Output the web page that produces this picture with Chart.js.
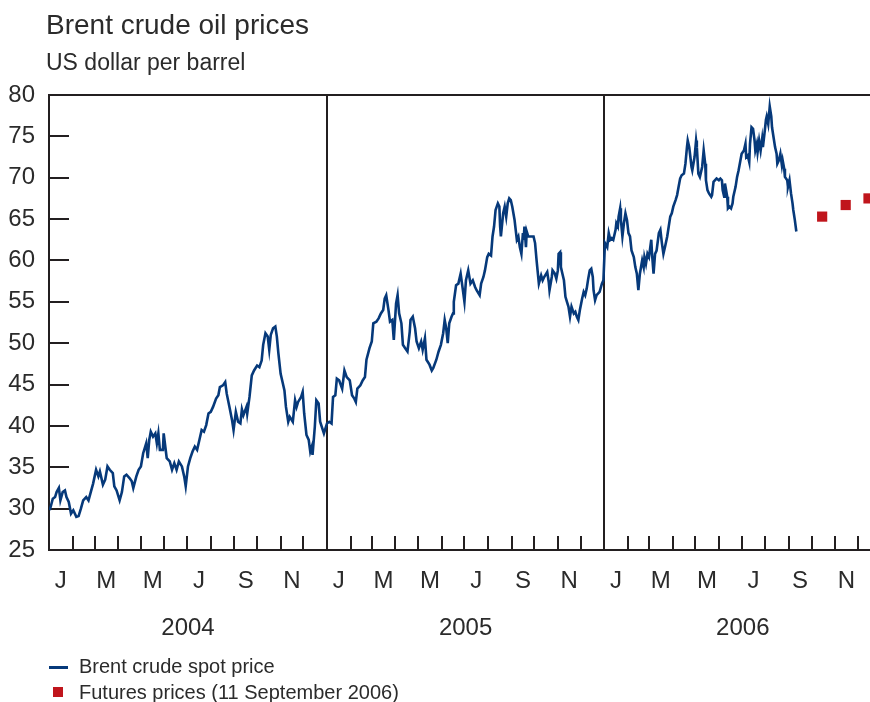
<!DOCTYPE html>
<html>
<head>
<meta charset="utf-8">
<title>Brent crude oil prices</title>
<script src="https://cdn.jsdelivr.net/npm/chart.js@4.4.1/dist/chart.umd.min.js"></script>
<style>
  body { margin: 0; background: #fff; }
  #wrap { position: relative; width: 870px; height: 702px; overflow: hidden;
          font-family: "Liberation Sans", Arial, sans-serif; color: #2b2b2b; }
  #chart { position: absolute; left: 0; top: 0; }
  .txt { position: absolute; white-space: nowrap; }
  #title { left: 46px; top: 11px; font-size: 28px; line-height: 28px; }
  #unit { left: 46px; top: 51px; font-size: 23px; line-height: 23px; }
  .leg { left: 79px; font-size: 20px; line-height: 20px; }
  .swatch { position: absolute; }
</style>
</head>
<body>
<div id="wrap">
  <canvas id="chart" width="870" height="702"></canvas>
  <div class="txt" id="title">Brent crude oil prices</div>
  <div class="txt" id="unit">US dollar per barrel</div>
  <div class="swatch" style="left:49px; top:666px; width:19px; height:3px; background:#06397a;"></div>
  <div class="txt leg" style="top:656px;">Brent crude spot price</div>
  <div class="swatch" style="left:53px; top:687px; width:10px; height:10px; background:#c0151c;"></div>
  <div class="txt leg" style="top:682px;">Futures prices (11 September 2006)</div>
</div>
<script>
// x values are days counted from 1 January 2004
const spotDays = [
  1, 5, 8, 10, 13, 15, 18, 21, 23, 26, 29, 32, 36, 39, 42, 45, 49, 52, 55, 58,
  62, 65, 67, 71, 74, 77, 80, 84, 86, 89, 93, 96, 99, 102, 106, 109, 111, 115, 118, 121,
  124, 128, 130, 132, 134, 137, 140, 142, 144, 146, 150, 151, 155, 159, 162, 165, 168, 171, 175, 178,
  180, 183, 186, 189, 192, 195, 198, 201, 204, 207, 210, 213, 216, 220, 223, 225, 229, 232, 234, 238,
  241, 243, 246, 249, 252, 254, 256, 260, 261, 264, 267, 270, 274, 277, 280, 282, 285, 288, 290, 292,
  295, 298, 300, 302, 305, 308, 310, 312, 315, 317, 321, 324, 326, 328, 332, 334, 336, 339, 342, 344,
  346, 347, 350, 352, 355, 357, 362,
  366, 369, 372, 374, 377, 379, 382, 386, 389, 392, 396, 399, 402, 404, 406, 410, 413, 416, 418, 422,
  425, 427, 431, 434, 437, 440, 442, 444, 447, 449, 452, 454, 457, 459, 461, 464, 466, 469, 472, 475,
  476, 479, 482, 484, 487, 490, 492, 495, 497, 501, 504, 506, 510, 513, 516, 519, 521, 523, 525, 527,
  530, 532, 533, 536, 539, 542, 545, 547, 549, 552, 555, 558, 561, 563, 567, 569, 572, 574, 577, 579,
  582, 584, 586, 588, 591, 593, 594, 595, 598, 600, 602, 604, 606, 608, 610, 613, 614, 616, 618, 620,
  622, 624, 625, 626, 628, 629, 631, 634, 636, 638, 640, 642, 645, 648, 650, 652, 656, 658, 659, 662,
  663, 666, 668, 670, 671, 673, 674, 676, 678, 680, 682, 684, 686, 688, 691, 693, 695, 697, 699, 702,
  704, 706, 708, 710, 712, 714, 716, 717, 719, 721, 725, 728, 730,
  732, 735, 737, 739, 741, 743, 746, 747, 749, 750, 752, 753, 755, 757, 759, 761, 763, 765, 767, 770,
  772, 774, 776, 778, 781, 783, 784, 786, 788, 790, 793, 794, 796, 798, 800, 803, 805, 807, 809, 811,
  814, 816, 818, 820, 822, 825, 827, 829, 831, 833, 836, 838, 840, 841, 843, 844, 846, 847, 850, 852,
  853, 855, 857, 860, 862, 864, 865, 867, 869, 872, 873, 875, 877, 879, 882, 884, 886, 887, 889, 890,
  893, 894, 896, 898, 900, 901, 904, 906, 908, 910, 912, 915, 917, 918, 920, 922, 923, 925, 927, 929,
  930, 932, 933, 935, 937, 939, 940, 942, 944, 945, 947, 949, 951, 952, 954, 956, 958, 959, 961, 963,
  965, 966, 968, 969, 972, 973, 975, 977, 979, 980, 982, 984
];
const spotPrices = [
  29.8, 31.2, 31.4, 32.0, 32.5, 31.0, 32.0, 32.2, 31.4, 30.8, 29.4, 29.8, 29.0, 29.1, 30.0, 31.0, 31.4, 31.0, 32.0, 33.0,
  34.7, 33.9, 34.5, 32.9, 33.5, 35.1, 34.7, 34.3, 32.7, 32.2, 31.0, 32.0, 33.9, 34.1, 33.7, 33.3, 32.5, 33.9, 34.7, 35.1,
  36.7, 37.9, 36.1, 38.3, 39.3, 38.7, 39.1, 37.9, 39.1, 37.1, 37.1, 39.1, 36.1, 35.7, 34.7, 35.5, 34.7, 35.7, 35.1, 33.9,
  32.7, 35.1, 36.1, 36.9, 37.5, 37.1, 38.3, 39.5, 39.3, 40.1, 41.5, 41.7, 42.3, 43.3, 43.7, 44.7, 44.9, 45.3, 43.9, 42.1,
  40.7, 39.5, 41.7, 40.5, 40.3, 42.0, 41.3, 42.3, 41.5, 43.5, 46.1, 46.7, 47.3, 47.1, 47.9, 49.8, 51.2, 50.8, 49.2, 51.0,
  51.8, 52.0, 50.8, 48.8, 46.3, 45.1, 44.3, 42.3, 40.5, 41.1, 40.5, 43.1, 42.3, 42.9, 43.5, 44.1, 41.5, 38.9, 38.3, 36.9,
  37.5, 36.5, 39.9, 43.1, 42.7, 40.5, 39.1,
  40.3, 40.5, 40.3, 43.5, 43.7, 45.7, 45.5, 44.5, 46.7, 45.9, 45.5, 43.7, 43.3, 42.9, 44.5, 44.9, 45.5, 45.9, 48.0, 49.4,
  50.2, 52.4, 52.6, 53.0, 53.6, 54.0, 55.4, 55.8, 54.0, 52.6, 52.8, 50.4, 54.8, 55.8, 53.6, 52.4, 49.8, 49.4, 49.0, 51.4,
  52.8, 53.2, 51.8, 50.2, 49.4, 50.2, 49.2, 50.6, 48.0, 47.4, 46.7, 47.0, 48.0, 49.0, 49.8, 51.2, 52.8, 51.8, 50.0, 52.4,
  53.2, 53.6, 55.0, 57.0, 57.2, 58.4, 56.4, 55.0, 57.6, 58.8, 57.2, 57.6, 56.8, 56.4, 55.8, 57.2, 58.0, 58.8, 60.4, 60.8,
  60.6, 62.9, 64.1, 66.1, 66.9, 66.5, 64.1, 62.9, 65.7, 66.5, 65.3, 66.9, 67.5, 67.3, 66.5, 64.9, 64.1, 62.5, 62.9, 61.6,
  60.8, 63.3, 62.5, 64.1, 61.6, 63.5, 62.9, 62.9, 62.9, 62.9, 62.1, 60.0, 57.2, 58.2, 57.6, 58.0, 58.6, 57.4, 56.4, 58.0,
  58.8, 58.4, 57.8, 58.8, 60.8, 61.0, 59.2, 58.4, 57.6, 55.6, 55.0, 54.4, 53.2, 54.4, 53.6, 53.8, 53.2, 52.8, 54.0, 55.4,
  56.2, 55.8, 56.6, 57.8, 58.8, 59.0, 58.0, 56.4, 55.2, 55.8, 56.2, 57.2, 57.6,
  62.1, 61.6, 63.3, 62.5, 62.7, 62.5, 63.7, 64.5, 64.1, 65.3, 66.3, 64.9, 62.9, 64.5, 65.7, 64.9, 63.3, 62.9, 61.2, 60.4,
  59.2, 58.4, 56.4, 58.4, 60.0, 59.2, 60.4, 59.6, 60.8, 60.4, 62.5, 60.8, 58.4, 60.8, 61.2, 63.3, 63.7, 62.1, 60.8, 61.6,
  62.9, 64.1, 65.3, 65.7, 66.5, 67.3, 67.9, 68.9, 69.9, 70.3, 70.5, 71.7, 73.7, 74.5, 73.7, 72.9, 71.3, 70.9, 72.5, 74.5,
  73.7, 70.5, 70.1, 71.3, 73.3, 71.7, 69.7, 68.5, 68.1, 67.7, 67.9, 69.5, 69.7, 69.9, 69.7, 69.9, 69.7, 68.5, 67.7, 69.3,
  67.7, 66.3, 66.5, 66.3, 66.9, 67.7, 68.9, 70.1, 70.9, 71.9, 72.9, 73.3, 74.1, 72.5, 72.7, 71.9, 74.1, 76.1, 75.9, 74.5,
  73.3, 74.1, 73.1, 74.5, 73.3, 74.7, 73.7, 75.3, 77.0, 77.4, 76.5, 78.6, 77.4, 76.1, 74.9, 73.7, 72.9, 71.7, 72.1, 72.9,
  71.5, 72.1, 71.1, 70.1, 69.7, 68.9, 69.7, 68.1, 66.9, 66.1, 64.9, 63.5
];

// futures quoted on 11 September 2006, mid-month contracts Oct-Dec 2006
const futuresDays = [1018, 1049, 1079];
const futuresPrices = [65.3, 66.7, 67.5];

const years = [2004, 2005, 2006];
const monthLetters = ['J', 'M', 'M', 'J', 'S', 'N'];

const ink = '#231f20';
const fontFamily = '"Liberation Sans", Arial, sans-serif';
const xMax = 1081;

const dayOf = (y, m, d) => (Date.UTC(y, m, d) - Date.UTC(2004, 0, 1)) / 86400000;

// label positions: middle of every other month
const monthMids = [];
years.forEach(y => {
    [0, 2, 4, 6, 8, 10].forEach(m => {
        monthMids.push((dayOf(y, m, 1) + dayOf(y, m + 1, 1)) / 2);
    });
});

// tick marks at the start of each month, full lines at year starts
const monthStarts = [];
years.forEach(y => {
    for (let m = 0; m < 12; m++) {
        const d = dayOf(y, m, 1);
        if (d > 0 && d < xMax) monthStarts.push({ day: d, yearStart: m === 0 });
    }
});

const framePlugin = {
    id: 'frame',
    beforeDatasetsDraw(chart) {
        const { ctx, chartArea: a, scales: { x, y } } = chart;
        ctx.save();
        ctx.strokeStyle = ink;
        ctx.lineWidth = 2;
        ctx.beginPath();
        ctx.moveTo(a.left, a.top);
        ctx.lineTo(a.right, a.top);
        y.ticks.forEach(t => {
            if (t.value <= 25 || t.value >= 80) return;
            const py = Math.round(y.getPixelForValue(t.value));
            ctx.moveTo(a.left, py);
            ctx.lineTo(a.left + 20, py);
        });
        monthStarts.forEach(ms => {
            const px = Math.round(x.getPixelForValue(ms.day));
            ctx.moveTo(px, a.bottom);
            ctx.lineTo(px, ms.yearStart ? a.top : a.bottom - 14);
        });
        ctx.stroke();

        ctx.fillStyle = '#2b2b2b';
        ctx.font = '24px ' + fontFamily;
        ctx.textAlign = 'center';
        ctx.textBaseline = 'alphabetic';
        years.forEach(yr => {
            const mid = (dayOf(yr, 0, 1) + dayOf(yr + 1, 0, 1)) / 2;
            ctx.fillText(String(yr), x.getPixelForValue(mid), 635);
        });
        ctx.restore();
    }
};

new Chart(document.getElementById('chart'), {
    type: 'scatter',
    data: {
        datasets: [
            {
                label: 'Brent crude spot price',
                data: spotDays.map((d, i) => ({ x: d, y: spotPrices[i] })),
                showLine: true,
                borderColor: '#06397a',
                borderWidth: 2.6,
                pointRadius: 0,
                tension: 0
            },
            {
                label: 'Futures prices (11 September 2006)',
                data: futuresDays.map((d, i) => ({ x: d, y: futuresPrices[i] })),
                pointStyle: 'rect',
                pointRadius: 7.2,
                backgroundColor: '#c0151c',
                borderColor: '#c0151c',
                borderWidth: 0
            }
        ]
    },
    options: {
        responsive: false,
        animation: false,
        events: [],
        layout: { autoPadding: false, padding: { top: 95, left: 0, right: 0, bottom: 0 } },
        plugins: {
            legend: { display: false },
            title: { display: false },
            tooltip: { enabled: false }
        },
        scales: {
            x: {
                type: 'linear',
                min: 0,
                max: xMax,
                afterBuildTicks: s => { s.ticks = monthMids.map(v => ({ value: v })); },
                afterFit: s => {
                    s.height = 152;
                    s.paddingLeft = 0;
                    s.paddingRight = 0;
                },
                grid: { display: false, drawTicks: false },
                border: { display: true, color: ink, width: 2 },
                ticks: {
                    autoSkip: false,
                    maxRotation: 0,
                    padding: 17,
                    color: '#2b2b2b',
                    font: { size: 24, family: fontFamily },
                    callback: (v, i) => monthLetters[i % 6]
                }
            },
            y: {
                min: 25,
                max: 80,
                afterFit: s => { s.width = 49; },
                grid: { display: false, drawTicks: false },
                border: { display: true, color: ink, width: 2 },
                ticks: {
                    stepSize: 5,
                    padding: 14,
                    color: '#2b2b2b',
                    font: { size: 24, family: fontFamily }
                }
            }
        }
    },
    plugins: [framePlugin]
});
</script>
</body>
</html>
